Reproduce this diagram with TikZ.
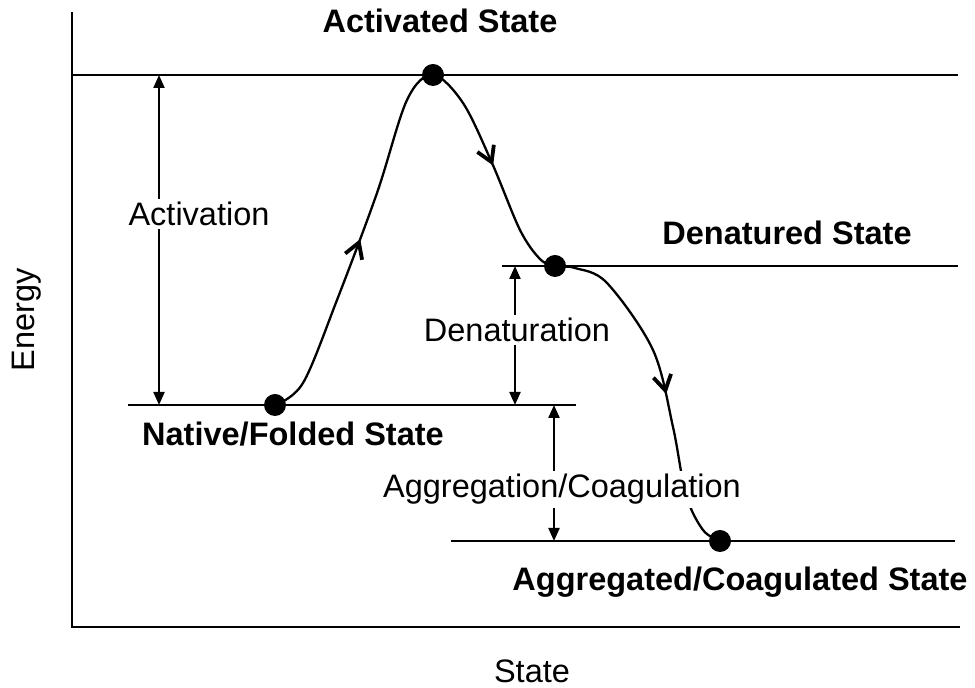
\documentclass[tikz,border=0pt]{standalone}
\usepackage{fontspec}
\setmainfont{Liberation Sans}
\usetikzlibrary{arrows.meta,decorations.markings}
\begin{document}
\begin{tikzpicture}[x=0.5pt,y=-0.5pt,
  every node/.style={font=\fontsize{16.25pt}{19.5pt}\selectfont},
  axisline/.style={line width=1.15pt},
  levelline/.style={line width=1.15pt},
  gaparrow/.style={line width=1.1pt, {Triangle[length=6.5pt,width=5.5pt]}-{Triangle[length=6.5pt,width=5.5pt]}},
  statelabel/.style={font=\fontsize{16.25pt}{19.5pt}\selectfont\bfseries, anchor=base},
  steplabel/.style={fill=white, inner sep=1.5pt, anchor=base},
  dot/.style={circle, fill=black, minimum size=11pt, inner sep=0pt},
  energycurve/.style={line width=1.15pt, line join=round,
    postaction={decorate},
    decoration={markings,
      mark=at position 0.20 with {\arrow[line width=1.9pt]{Straight Barb[length=7.5pt,width=9pt]}},
      mark=at position 0.51 with {\arrow[line width=1.9pt]{Straight Barb[length=7.5pt,width=9pt]}},
      mark=at position 0.83 with {\arrow[line width=1.9pt]{Straight Barb[length=7.5pt,width=9pt]}}}}
]
\useasboundingbox (0,0) rectangle (975,688);

% axes
\coordinate (ytop) at (72,12);
\coordinate (origin) at (72,627);
\coordinate (xend) at (960,627);
\draw[axisline] (ytop) -- (origin) -- (xend);

% energy levels
\coordinate (actL) at (72,75);   \coordinate (actR) at (958,75);
\coordinate (denL) at (502,266); \coordinate (denR) at (958,266);
\coordinate (natL) at (128,405); \coordinate (natR) at (576,405);
\coordinate (aggL) at (451,541); \coordinate (aggR) at (955,541);
\draw[levelline] (actL) -- (actR);
\draw[levelline] (denL) -- (denR);
\draw[levelline] (natL) -- (natR);
\draw[levelline] (aggL) -- (aggR);

% states
\node[dot] (nat) at (275,405) {};
\node[dot] (act) at (433,75) {};
\node[dot] (den) at (555,266) {};
\node[dot] (agg) at (720,541) {};

% reaction path
\draw[energycurve] plot[smooth, tension=0.55] coordinates {
  (nat.center) (303,383) (337,300) (377,193) (407,100)
  (act.center) (463,103) (492,163) (520,230) (540,259)
  (den.center) (575,268) (607,283) (653,350) (673,427) (686,495) (703,530)
  (agg.center)};

% energy differences
\coordinate (a1) at (159,75);  \coordinate (a2) at (159,405);
\coordinate (d1) at (515,266); \coordinate (d2) at (515,405);
\coordinate (g1) at (554,405); \coordinate (g2) at (554,541);
\draw[gaparrow] (a1) -- (a2);
\draw[gaparrow] (d1) -- (d2);
\draw[gaparrow] (g1) -- (g2);

\node[steplabel] (actstep) at (199,226) {Activation};
\node[steplabel] (denstep) at (517,342) {Denaturation};
\node[steplabel] (aggstep) at (562,498) {Aggregation/Coagulation};

% state names
\node[statelabel] (actname) at (440,33) {Activated State};
\node[statelabel] (denname) at (787,245) {Denatured State};
\node[statelabel] (natname) at (293,446) {Native/Folded State};
\node[statelabel] (aggname) at (740,591) {Aggregated/Coagulated State};

% axis titles
\node[anchor=base] (xtitle) at (532,683) {State};
\node[anchor=base, rotate=90] (ytitle) at (34,320) {Energy};
\end{tikzpicture}
\end{document}
